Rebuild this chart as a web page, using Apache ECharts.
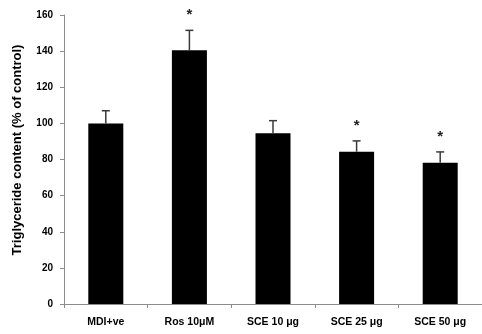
<!DOCTYPE html>
<html>
<head>
<meta charset="utf-8">
<script src="https://cdn.jsdelivr.net/npm/echarts@6/dist/echarts.min.js"></script>
<style>
  html, body { margin: 0; padding: 0; background: #fff; }
  #chart { width: 482px; height: 334px; }
</style>
</head>
<body>
<div id="chart"></div>
<script>
// Treatment groups and triglyceride content (% of control)
var categories = ['MDI+ve', 'Ros 10\u03bcM', 'SCE 10 \u03bcg', 'SCE 25 \u03bcg', 'SCE 50 \u03bcg'];
var means = [100, 140.5, 94.5, 84.3, 78.2];
var errors = [7, 11, 7, 6, 6];
var significant = [false, true, false, true, true];
var yTicks = [0, 20, 40, 60, 80, 100, 120, 140, 160];
var yTitle = 'Triglyceride content (% of control)';

var FONT = '"Liberation Sans", Arial, sans-serif';

var errorData = means.map(function (m, i) {
  return [i, m, errors[i], significant[i] ? 1 : 0];
});

var chart = echarts.init(document.getElementById('chart'));
chart.setOption({
  animation: false,
  backgroundColor: '#fff',
  grid: { left: 64, top: 15, height: 289, width: 420, containLabel: false },
  graphic: [{
    type: 'text',
    x: 17,
    y: 150,
    rotation: Math.PI / 2,
    style: {
      text: yTitle,
      textAlign: 'center',
      textVerticalAlign: 'middle',
      fontFamily: FONT,
      fontWeight: 'bold',
      fontSize: 13,
      fill: '#000'
    }
  }],
  xAxis: {
    type: 'category',
    data: categories,
    boundaryGap: true,
    axisLine: { lineStyle: { color: '#8c8c8c', width: 1 } },
    axisTick: { show: true, length: 4, lineStyle: { color: '#8c8c8c' } },
    axisLabel: { color: '#000', fontFamily: FONT, fontWeight: 'bold', fontSize: 10.5, margin: 13 }
  },
  yAxis: {
    type: 'value',
    min: yTicks[0],
    max: yTicks[yTicks.length - 1],
    interval: 20,
    axisLine: { show: true, lineStyle: { color: '#8c8c8c', width: 1 } },
    axisTick: { show: true, length: 4, lineStyle: { color: '#8c8c8c' } },
    axisLabel: { color: '#000', fontFamily: FONT, fontWeight: 'bold', fontSize: 10, margin: 11 },
    splitLine: { show: false }
  },
  series: [
    {
      type: 'bar',
      data: means,
      barWidth: 35,
      itemStyle: { color: '#000' }
    },
    {
      type: 'custom',
      data: errorData,
      z: 5,
      renderItem: function (params, api) {
        var i = api.value(0);
        var m = api.value(1);
        var se = api.value(2);
        var sig = api.value(3);
        var base = api.coord([i, m]);
        var cap = api.coord([i, m + se]);
        var half = 4;
        var children = [
          { type: 'line', shape: { x1: base[0], y1: base[1], x2: cap[0], y2: cap[1] },
            style: { stroke: '#3a3a3a', lineWidth: 1.5 } },
          { type: 'line', shape: { x1: cap[0] - half, y1: cap[1], x2: cap[0] + half, y2: cap[1] },
            style: { stroke: '#3a3a3a', lineWidth: 1.5 } }
        ];
        if (sig) {
          children.push({
            type: 'text',
            style: {
              text: '*', x: cap[0], y: cap[1] - 8,
              textAlign: 'center', textVerticalAlign: 'bottom',
              fontSize: 15, fontWeight: 'bold', fontFamily: FONT, fill: '#222'
            }
          });
        }
        return { type: 'group', children: children };
      }
    }
  ]
});
</script>
</body>
</html>
